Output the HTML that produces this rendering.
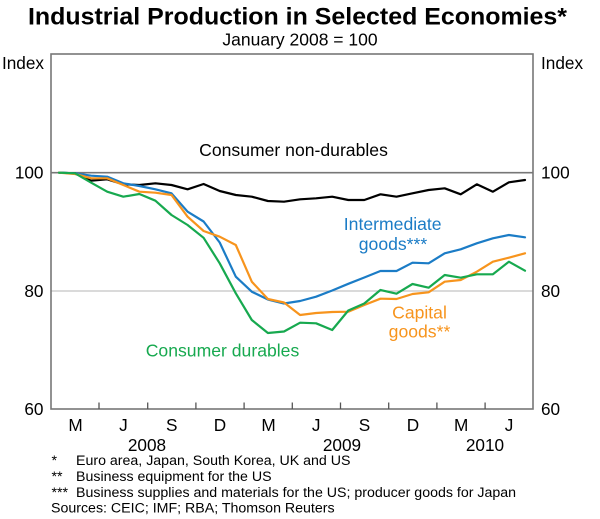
<!DOCTYPE html>
<html>
<head>
<meta charset="utf-8">
<style>
html,body{margin:0;padding:0;background:#fff;}
svg{display:block;}
text{font-family:"Liberation Sans",Arial,sans-serif;}
</style>
</head>
<body>
<svg width="600" height="519" viewBox="0 0 600 519" xmlns="http://www.w3.org/2000/svg">
<rect width="600" height="519" fill="#fff"/>
<!-- Titles -->
<text x="28" y="24.5" font-size="24" font-weight="bold" fill="#000" textLength="539" lengthAdjust="spacingAndGlyphs">Industrial Production in Selected Economies*</text>
<text x="300" y="45.5" font-size="17.5" text-anchor="middle" fill="#000">January 2008 = 100</text>

<!-- gridlines -->
<line x1="51" y1="291" x2="533" y2="291" stroke="#c4c4c4" stroke-width="1.2"/>
<line x1="51" y1="172.7" x2="533" y2="172.7" stroke="#777" stroke-width="1.6"/>

<!-- plot box -->
<rect x="51" y="54" width="482" height="355" fill="none" stroke="#777" stroke-width="1.6"/>

<!-- ticks -->
<g stroke="#555" stroke-width="1.3">
<line x1="99" y1="409" x2="99" y2="402.5"/>
<line x1="147.7" y1="409" x2="147.7" y2="402.5"/>
<line x1="195.9" y1="409" x2="195.9" y2="402.5"/>
<line x1="244.1" y1="409" x2="244.1" y2="402.5"/>
<line x1="292.3" y1="409" x2="292.3" y2="402.5"/>
<line x1="340.5" y1="409" x2="340.5" y2="402.5"/>
<line x1="388.7" y1="409" x2="388.7" y2="402.5"/>
<line x1="436.9" y1="409" x2="436.9" y2="402.5"/>
<line x1="485.1" y1="409" x2="485.1" y2="402.5"/>
</g>

<!-- Y labels -->
<g font-size="17.2" fill="#000">
<text x="44" y="69" text-anchor="end">Index</text>
<text x="43.5" y="178.7" text-anchor="end">100</text>
<text x="43.5" y="297" text-anchor="end">80</text>
<text x="43.5" y="415" text-anchor="end">60</text>
<text x="541" y="69">Index</text>
<text x="541" y="178.7">100</text>
<text x="541" y="297">80</text>
<text x="541" y="415">60</text>
</g>

<!-- X labels -->
<g font-size="17.2" fill="#000" text-anchor="middle">
<text x="75.5" y="431">M</text>
<text x="123.4" y="431">J</text>
<text x="171.7" y="431">S</text>
<text x="220" y="431">D</text>
<text x="268.5" y="431">M</text>
<text x="316.2" y="431">J</text>
<text x="364.5" y="431">S</text>
<text x="413" y="431">D</text>
<text x="461.2" y="431">M</text>
<text x="509" y="431">J</text>
<text x="147" y="451">2008</text>
<text x="342" y="451">2009</text>
<text x="485" y="451">2010</text>
</g>

<!-- Series -->
<g fill="none" stroke-width="2.2" stroke-linejoin="round" stroke-linecap="round">
<polyline stroke="#000" points="59,172.7 75.1,173.3 91.2,180.7 107.2,179.3 123.3,184.3 139.4,185 155.4,183.3 171.5,185 187.6,189.3 203.6,184 219.7,191 235.8,195 251.8,196.7 267.9,201 284,201.7 300.1,199.3 316.1,198.3 332.2,196.7 348.3,200 364.3,200 380.4,194.3 396.5,196.7 412.5,193.3 428.6,190 444.7,188.3 460.7,194.3 476.8,184.3 492.9,191.7 508.9,182.3 525,180"/>
<polyline stroke="#1b7cc6" points="59,172.7 75.1,173.3 91.2,175.7 107.2,176.7 123.3,183.3 139.4,186 155.4,189.3 171.5,193.3 187.6,211.7 203.6,221.5 219.7,242.5 235.8,276.7 251.8,291.7 267.9,299.5 284,303.5 300.1,301 316.1,296.7 332.2,290.5 348.3,283.8 364.3,277.5 380.4,271 396.5,271 412.5,262.7 428.6,263.3 444.7,253.3 460.7,249.3 476.8,243.3 492.9,238.3 508.9,235 525,237.3"/>
<polyline stroke="#f7941d" points="59,172.7 75.1,174 91.2,178.3 107.2,178.3 123.3,185 139.4,191.7 155.4,192.7 171.5,195 187.6,216.7 203.6,231 219.7,236.7 235.8,245 251.8,281.7 267.9,299 284,302.5 300.1,315 316.1,313 332.2,312 348.3,311.7 364.3,305 380.4,298.7 396.5,299 412.5,294 428.6,292.3 444.7,281.7 460.7,280 476.8,271.7 492.9,261.7 508.9,257.7 525,253.3"/>
<polyline stroke="#17a94f" points="59,172.7 75.1,173.3 91.2,182.7 107.2,191.7 123.3,196.7 139.4,194 155.4,200.7 171.5,215 187.6,225 203.6,237.8 219.7,263.3 235.8,293.3 251.8,320 267.9,333 284,331.5 300.1,322.7 316.1,323.3 332.2,330 348.3,310.5 364.3,303.5 380.4,290 396.5,293.7 412.5,284 428.6,287.7 444.7,275 460.7,277.7 476.8,274.3 492.9,274.3 508.9,261.7 525,270.7"/>
</g>

<!-- Series labels -->
<g font-size="17.6" text-anchor="middle">
<text x="293.5" y="156" fill="#000">Consumer non-durables</text>
<text x="392.7" y="230" fill="#1b7cc6">Intermediate</text>
<text x="393" y="250" fill="#1b7cc6">goods***</text>
<text x="419.5" y="318.5" fill="#f7941d">Capital</text>
<text x="419.5" y="337.5" fill="#f7941d">goods**</text>
<text x="222.5" y="356.7" fill="#17a94f">Consumer durables</text>
</g>

<!-- Footnotes -->
<g font-size="14.2" fill="#000">
<text x="51.5" y="465">*</text>
<text x="76" y="465">Euro area, Japan, South Korea, UK and US</text>
<text x="51.5" y="481">**</text>
<text x="76" y="481">Business equipment for the US</text>
<text x="51.5" y="497">***</text>
<text x="76" y="497">Business supplies and materials for the US; producer goods for Japan</text>
<text x="51" y="512.5">Sources: CEIC; IMF; RBA; Thomson Reuters</text>
</g>
</svg>
</body>
</html>
